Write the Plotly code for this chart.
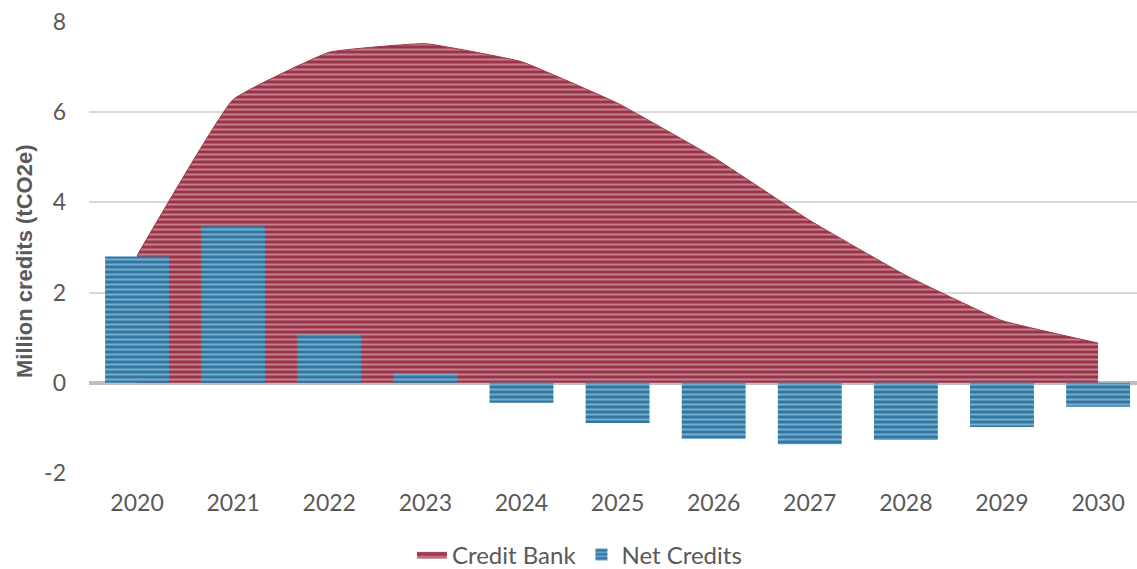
import plotly.graph_objects as go

years = ["2020", "2021", "2022", "2023", "2024", "2025", "2026", "2027", "2028", "2029", "2030"]
credit_bank = [2.82, 6.28, 7.33, 7.52, 7.12, 6.2, 5.0, 3.6, 2.38, 1.38, 0.88]
net_credits = [2.8, 3.47, 1.07, 0.22, -0.44, -0.89, -1.24, -1.36, -1.27, -0.98, -0.53]
y_title = "Million credits (tCO2e)"

font_main = "Lato, 'Open Sans', sans-serif"
grey_text = "#595959"

fig = go.Figure()

fig.add_trace(go.Scatter(
    x=years, y=credit_bank, name="Credit Bank",
    mode="lines", fill="tozeroy",
    line=dict(color="#9C3449", width=1, shape="spline", smoothing=0.3),
    fillcolor="#9C3449",
    fillpattern=dict(shape="-", fgcolor="#EBCFD5", bgcolor="#9C3449", size=5, solidity=0.4),
    yaxis="y",
))

fig.add_trace(go.Bar(
    x=years, y=net_credits, name="Net Credits",
    width=0.665,
    marker=dict(color="#2F78A5", line=dict(width=0),
                pattern=dict(shape="-", fgcolor="#C9E0EE", bgcolor="#2F78A5", size=5, solidity=0.4)),
    yaxis="y2",
))

yax = dict(range=[-2, 8], tickvals=[-2, 0, 2, 4, 6, 8], ticktext=["-2", "0", "2", "4", "6", "8"])

fig.update_layout(
    width=1137, height=569,
    margin=dict(l=89, r=0, t=22, b=96, autoexpand=False),
    paper_bgcolor="white", plot_bgcolor="white",
    font=dict(family=font_main, color=grey_text, size=23),
    xaxis=dict(type="category", range=[-0.5, 10.405], showgrid=False, showline=False,
               automargin=False,
               ticks="", ticklabelstandoff=14, tickfont=dict(size=23, color=grey_text)),
    yaxis=dict(**yax, showgrid=True, gridcolor="#D9D9D9", gridwidth=2,
               zeroline=True, zerolinecolor="#BFBFBF", zerolinewidth=4,
               showline=False, ticks="", ticklabelstandoff=22, automargin=False,
               tickfont=dict(size=23, color=grey_text)),
    yaxis2=dict(**yax, overlaying="y", showgrid=False, zeroline=True, zerolinecolor="#BFBFBF",
                zerolinewidth=4, showticklabels=False, showline=False),
    barmode="overlay",
    showlegend=True,
    legend=dict(orientation="h", x=0.468, xanchor="center", yref="container", y=0.025, yanchor="middle",
                font=dict(size=24, color=grey_text), itemwidth=30, traceorder="normal"),
    annotations=[dict(text="<b>" + y_title + "</b>", textangle=-90, xref="paper", yref="paper",
                      x=-0.061, y=0.468, xanchor="center", yanchor="middle", showarrow=False,
                      font=dict(family="'Liberation Sans', Arial, sans-serif", size=22, color=grey_text))],
)

fig.write_html("out.html")
